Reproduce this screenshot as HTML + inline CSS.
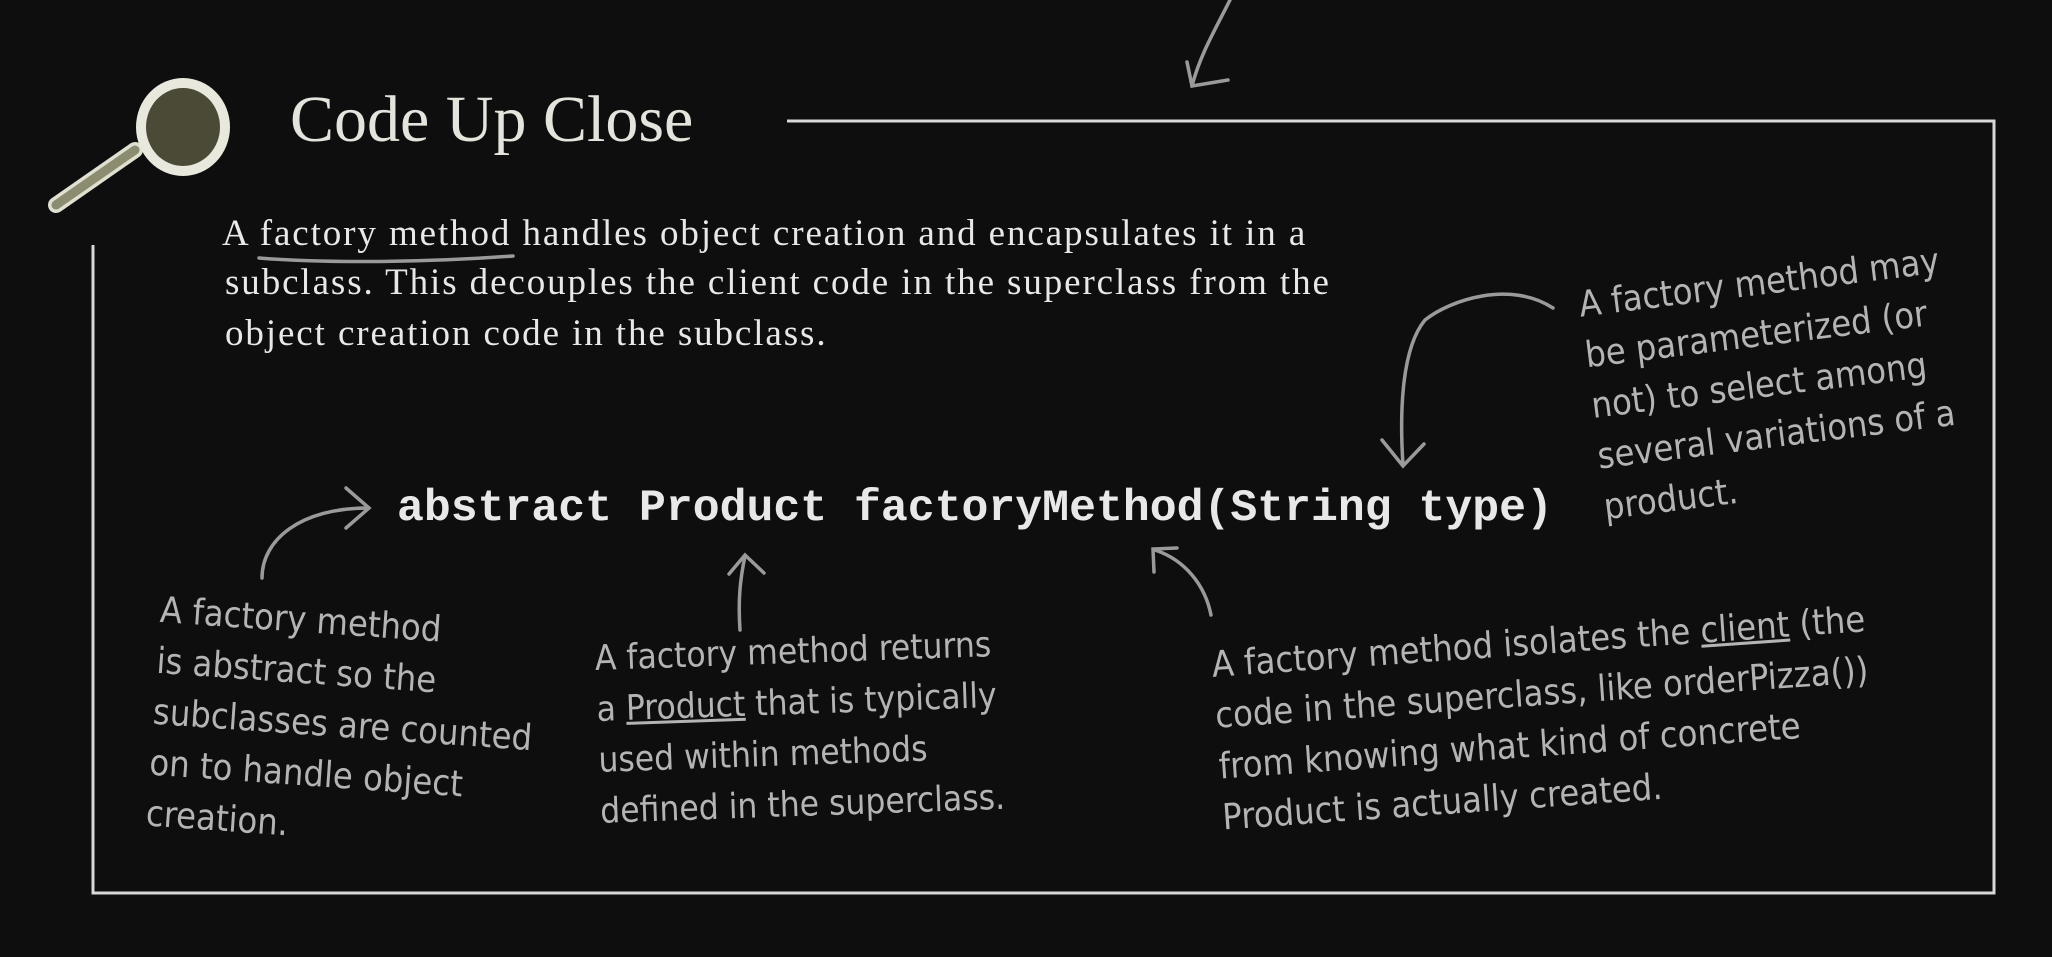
<!DOCTYPE html>
<html><head><meta charset="utf-8">
<style>
html,body{margin:0;padding:0;background:#0e0e0e;}
body{width:2052px;height:957px;position:relative;overflow:hidden;}
.t{position:absolute;white-space:nowrap;}
.title{left:290px;top:82px;font-family:"Liberation Serif",serif;font-size:66px;color:#e4e4dc;letter-spacing:0px;}
.para{left:222px;font-family:"Liberation Serif",serif;font-size:37px;letter-spacing:1.9px;color:#e8e8e8;}
.code{left:397px;top:484px;font-family:"Liberation Mono",monospace;font-weight:bold;font-size:44.8px;color:#e8e8e8;}
.note{font-family:"Liberation Sans Narrow","DejaVu Sans Condensed","Liberation Sans",sans-serif;font-size:36px;color:#b4b4b4;line-height:51px;position:absolute;white-space:nowrap;transform-origin:0 0;}
</style></head><body>
<svg width="2052" height="957" style="position:absolute;left:0;top:0">
  <polyline points="787,121 1994,121 1994,893 93,893 93,245" fill="none" stroke="#d8d8d8" stroke-width="3"/>
  <line x1="56" y1="205" x2="135" y2="150" stroke="#e0e0d0" stroke-width="16" stroke-linecap="round"/>
  <line x1="56" y1="205" x2="135" y2="150" stroke="#8c8c70" stroke-width="9" stroke-linecap="round"/>
  <ellipse cx="183" cy="127" rx="47" ry="49" fill="#e8e8dc"/>
  <ellipse cx="183" cy="127" rx="37" ry="39" fill="#4a4a36"/>
  <g fill="none" stroke="#9a9a9a" stroke-width="3.5" stroke-linecap="round">
    <path d="M262,578 C262,540 300,508 368,508"/>
    <path d="M346,488 L369,508 L346,528"/>
    <path d="M740,630 C738,600 740,580 745,556"/>
    <path d="M729,574 L745,555 L764,573"/>
    <path d="M1211,615 C1205,585 1185,560 1155,550"/>
    <path d="M1154,572 L1153,549 L1177,548"/>
    <path d="M1553,308 C1510,280 1450,300 1425,320 C1400,350 1400,420 1403,465"/>
    <path d="M1382,440 L1403,466 L1424,444"/>
    <path d="M1230,0 C1215,30 1200,55 1192,86"/>
    <path d="M1187,62 L1192,86 L1228,80"/>
    <path d="M259,258 C320,263 420,263 513,256"/>
  </g>
</svg>
<div class="t title">Code Up Close</div>
<div class="t para" style="top:212px;">A factory method handles object creation and encapsulates it in a</div>
<div class="t para" style="top:261px;left:225px;">subclass. This decouples the client code in the superclass from the</div>
<div class="t para" style="top:312px;left:225px;">object creation code in the subclass.</div>
<div class="t code">abstract Product factoryMethod(String type)</div>

<div class="note" style="left:162px;top:585px;transform:rotate(4deg);">A factory method<br>is abstract so the<br>subclasses are counted<br>on to handle object<br>creation.</div>
<div class="note" style="left:594px;top:634px;transform:rotate(-2deg);font-size:35px;">A factory method returns<br>a <u>Product</u> that is typically<br>used within methods<br>defined in the superclass.</div>
<div class="note" style="left:1210px;top:640px;transform:rotate(-4deg);">A factory method isolates the <u>client</u> (the<br>code in the superclass, like orderPizza())<br>from knowing what kind of concrete<br>Product is actually created.</div>
<div class="note" style="left:1576px;top:280px;transform:rotate(-7deg);">A factory method may<br>be parameterized (or<br>not) to select among<br>several variations of a<br>product.</div>
</body></html>
